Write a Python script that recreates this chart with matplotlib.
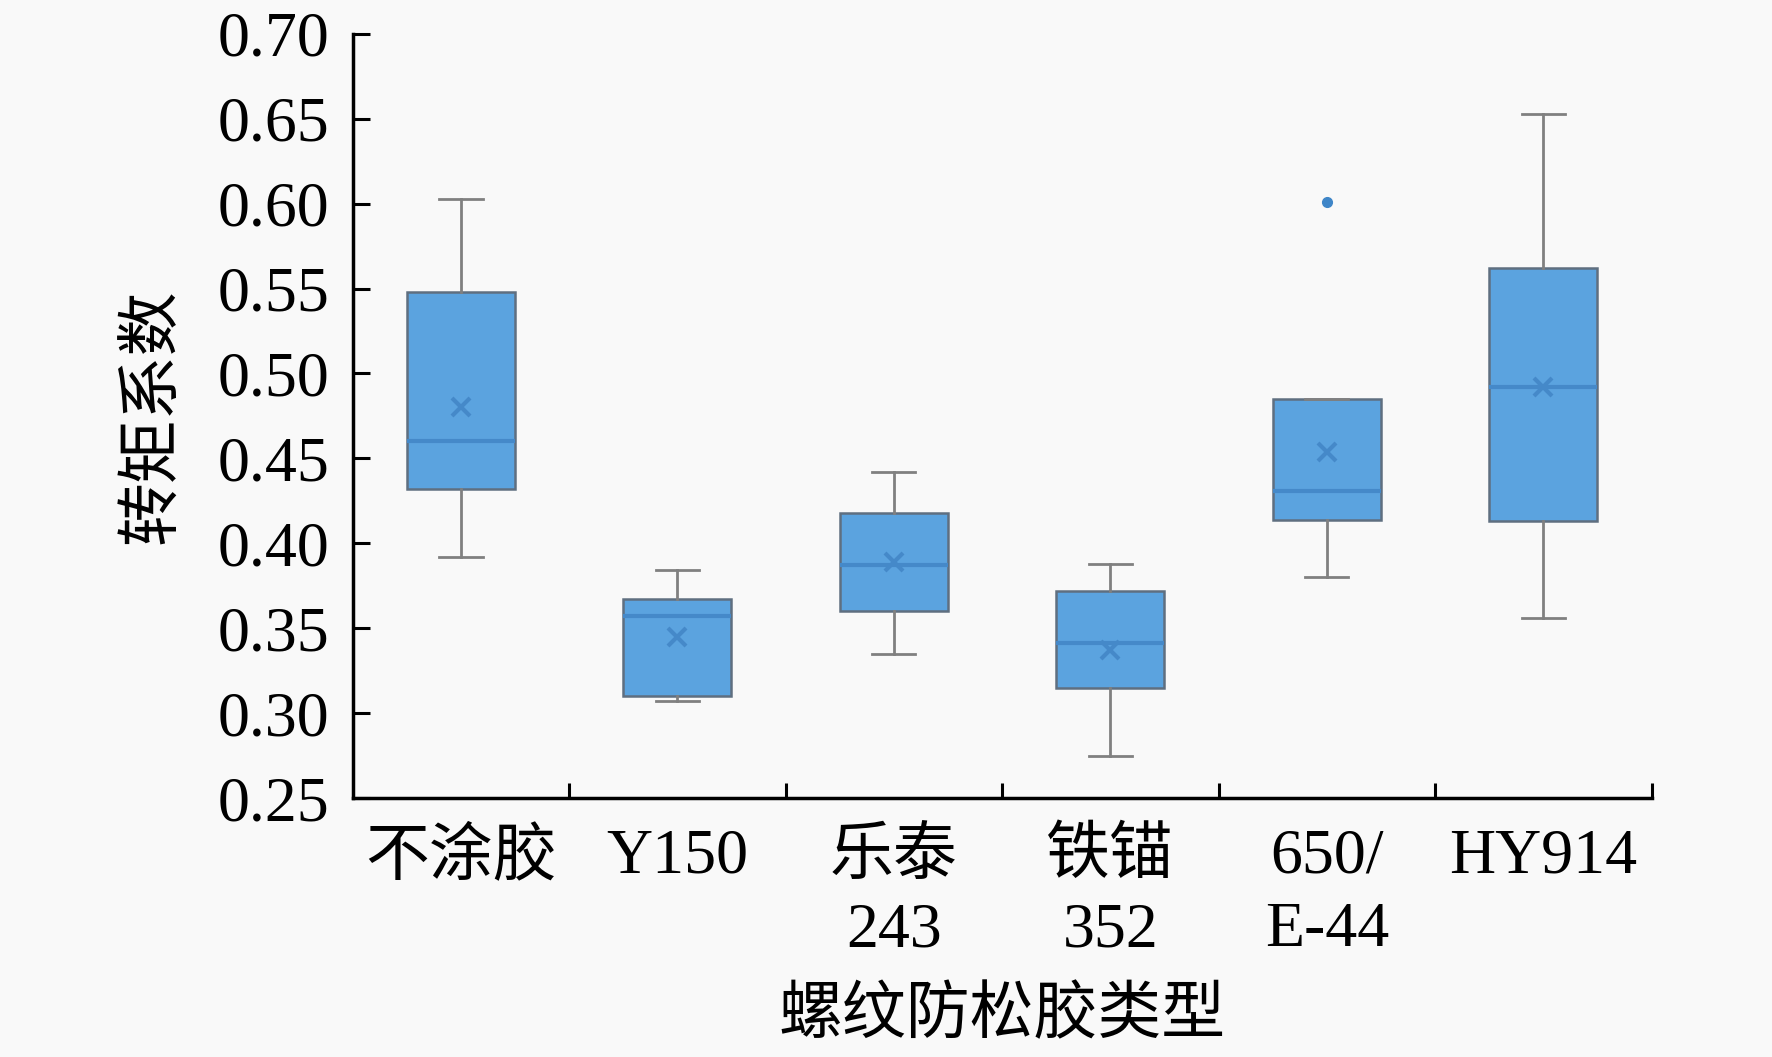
import matplotlib
matplotlib.use("Agg")
import matplotlib.pyplot as plt

# DATA
groups = ["不涂胶", "Y150", "乐泰\n243", "铁锚\n352", "650/\nE-44", "HY914"]
whis_lo = [0.392, 0.307, 0.335, 0.275, 0.380, 0.356]
q1 = [0.432, 0.310, 0.360, 0.315, 0.414, 0.413]
med = [0.460, 0.357, 0.387, 0.341, 0.431, 0.492]
q3 = [0.548, 0.367, 0.418, 0.372, 0.485, 0.562]
whis_hi = [0.603, 0.384, 0.442, 0.388, 0.485, 0.653]
means = [0.480, 0.345, 0.389, 0.337, 0.454, 0.492]
outliers = [[], [], [], [], [0.601], []]
y_ticks = [0.25, 0.30, 0.35, 0.40, 0.45, 0.50, 0.55, 0.60, 0.65, 0.70]

fam = ["Liberation Serif", "Noto Sans CJK SC", "DejaVu Sans"]
plt.rcParams["font.family"] = fam
plt.rcParams["font.size"] = 46

bg = "#f9f9f9"
fig = plt.figure(figsize=(17.72, 10.57), dpi=100, facecolor=bg)
ax = fig.add_axes([0.199, 0.245, 0.733, 0.723], facecolor=bg)

stats = []
for i in range(len(groups)):
    stats.append({"whislo": whis_lo[i], "q1": q1[i], "med": med[i], "q3": q3[i],
                  "whishi": whis_hi[i], "mean": means[i], "fliers": outliers[i]})

pos = list(range(1, len(groups) + 1))
ax.bxp(stats, positions=pos, widths=0.5, patch_artist=True, showmeans=True,
       capwidths=0.2,
       boxprops=dict(facecolor="#5ba3df", edgecolor="#5f6f80", linewidth=1.8),
       medianprops=dict(color="#4589c9", linewidth=3),
       whiskerprops=dict(color="#808080", linewidth=2),
       capprops=dict(color="#808080", linewidth=2),
       meanprops=dict(marker="x", markeredgecolor="#4589c9", markersize=13,
                      markeredgewidth=3),
       flierprops=dict(marker="o", markerfacecolor="#3f86c8",
                       markeredgecolor="#3f86c8", markersize=7))

ax.set_xlim(0.5, len(groups) + 0.5)
ax.set_ylim(0.25, 0.70)
ax.set_yticks(y_ticks)
ax.set_yticklabels(["%.2f" % v for v in y_ticks])
ax.set_xticks(pos)
ax.set_xticklabels(groups, linespacing=1.35, va="top")
ax.set_xticks([p + 0.5 for p in pos], minor=True)

ax.tick_params(axis="y", direction="in", length=12, width=2.2, pad=17)
ax.tick_params(axis="x", which="major", length=0, pad=22)
ax.tick_params(axis="x", which="minor", direction="in", length=11, width=2.2)

for s in ["top", "right"]:
    ax.spines[s].set_visible(False)
for s in ["left", "bottom"]:
    ax.spines[s].set_linewidth(2.5)

ax.set_ylabel("转矩系数")
ax.yaxis.set_label_coords(-0.13, 0.5)
ax.set_xlabel("螺纹防松胶类型")
ax.xaxis.set_label_coords(0.5, -0.248)

fig.savefig("out.png", dpi=100, facecolor=bg)
